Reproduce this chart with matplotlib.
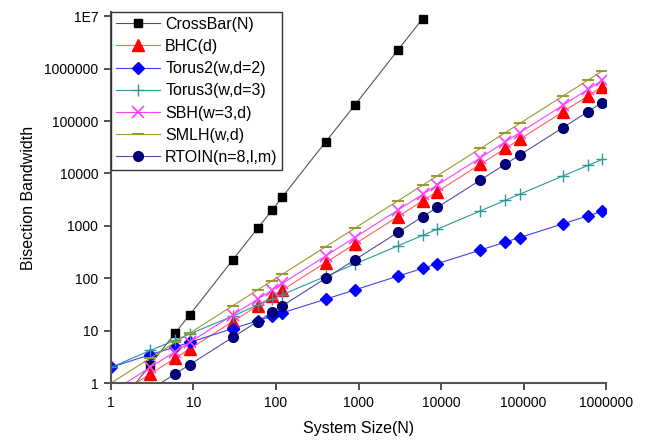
import matplotlib

matplotlib.use('Agg')
import matplotlib.pyplot as plt

plt.rcParams['font.family'] = ['Liberation Sans', 'DejaVu Sans']

# system sizes (N)
sizes = [1, 3, 6, 9, 30, 60, 90, 120, 400, 900, 3000, 6000, 9000,
         30000, 60000, 90000, 300000, 600000, 900000]

crossbar = [0.25, 2.25, 9, 20, 225, 900, 2000, 3600, 40000, 200000,
            2250000, 9000000]
bhc = [0.5, 1.5, 3, 4.5, 15, 30, 45, 60, 200, 450, 1500, 3000, 4500,
       15000, 30000, 45000, 150000, 300000, 450000]
torus2 = [2, 3.5, 4.9, 6, 11, 15.5, 19, 22, 40, 60, 110, 155, 190,
          346, 490, 600, 1095, 1550, 1900]
torus3 = [2, 4.2, 6.6, 8.7, 19, 31, 40, 49, 109, 186, 416, 660, 865,
          1930, 3070, 4020, 8960, 14200, 18600]
sbh = [0.67, 2, 4, 6, 20, 40, 60, 80, 267, 600, 2000, 4000, 6000,
       20000, 40000, 60000, 200000, 400000, 600000]
smlh = [1, 3, 6, 9, 30, 60, 90, 120, 400, 900, 3000, 6000, 9000,
        30000, 60000, 90000, 300000, 600000, 900000]
rtoin = [0.25, 0.75, 1.5, 2.25, 7.5, 15, 22.5, 30, 100, 225, 750, 1500,
         2250, 7500, 15000, 22500, 75000, 150000, 225000]

xticks = [1, 10, 100, 1000, 10000, 100000, 1000000]
xticklabels = ['1', '10', '100', '1000', '10000', '100000', '1000000']
yticks = [1, 10, 100, 1000, 10000, 100000, 1000000, 10000000]
yticklabels = ['1', '10', '100', '1000', '10000', '100000', '1000000', '1E7']

fig = plt.figure(figsize=(6.56, 4.44), dpi=100)
ax = fig.add_axes([0.169, 0.137, 0.755, 0.836])

lw = 0.8
ax.plot(sizes[:len(crossbar)], crossbar, color='#555555', lw=lw, marker='s',
        markersize=6, markerfacecolor='black', markeredgecolor='black',
        label='CrossBar(N)')
ax.plot(sizes, bhc, color='#ff6060', lw=lw, marker='^', markersize=8,
        markerfacecolor='red', markeredgecolor='red', label='BHC(d)')
ax.plot(sizes, torus2, color='#4040ff', lw=lw, marker='D', markersize=6.5,
        markerfacecolor='blue', markeredgecolor='blue', label='Torus2(w,d=2)')
ax.plot(sizes, torus3, color='#2a9a9a', lw=lw, marker='+', markersize=8,
        markeredgewidth=1.0, label='Torus3(w,d=3)')
ax.plot(sizes, sbh, color='#ff40ff', lw=lw, marker='x', markersize=8,
        markeredgewidth=1.2, label='SBH(w=3,d)')
ax.plot(sizes, smlh, color='#9a9a30', lw=lw, marker='_', markersize=8,
        markeredgewidth=1.5, label='SMLH(w,d)')
ax.plot(sizes, rtoin, color='#5050a0', lw=lw, marker='o', markersize=7,
        markerfacecolor='#000080', markeredgecolor='#000060', label='RTOIN(n=8,l,m)')

ax.set_xscale('log')
ax.set_yscale('log')
ax.set_xlim(1, 1000000)
ax.set_ylim(1, 1.2e7)
ax.set_xticks(xticks)
ax.set_xticklabels(xticklabels)
ax.set_yticks(yticks)
ax.set_yticklabels(yticklabels)
ax.minorticks_off()
ax.tick_params(direction='out', length=5, width=1.3, color='#444444',
               labelsize=10, pad=4)

for side in ['top', 'right']:
    ax.spines[side].set_visible(False)
for side in ['left', 'bottom']:
    ax.spines[side].set_linewidth(1.5)
    ax.spines[side].set_color('#555555')

ax.set_xlabel('System Size(N)', fontsize=11.5, labelpad=8)
ax.set_ylabel('Bisection Bandwidth', fontsize=11.5, labelpad=6)

leg = ax.legend(loc='upper left', borderaxespad=0, fontsize=11.5,
                handlelength=2.8, fancybox=False, framealpha=1,
                edgecolor='#333333', borderpad=0.3, labelspacing=0.45,
                handletextpad=0.3)
leg.get_frame().set_linewidth(1.0)

plt.savefig('out.png', dpi=100)
plt.close()
